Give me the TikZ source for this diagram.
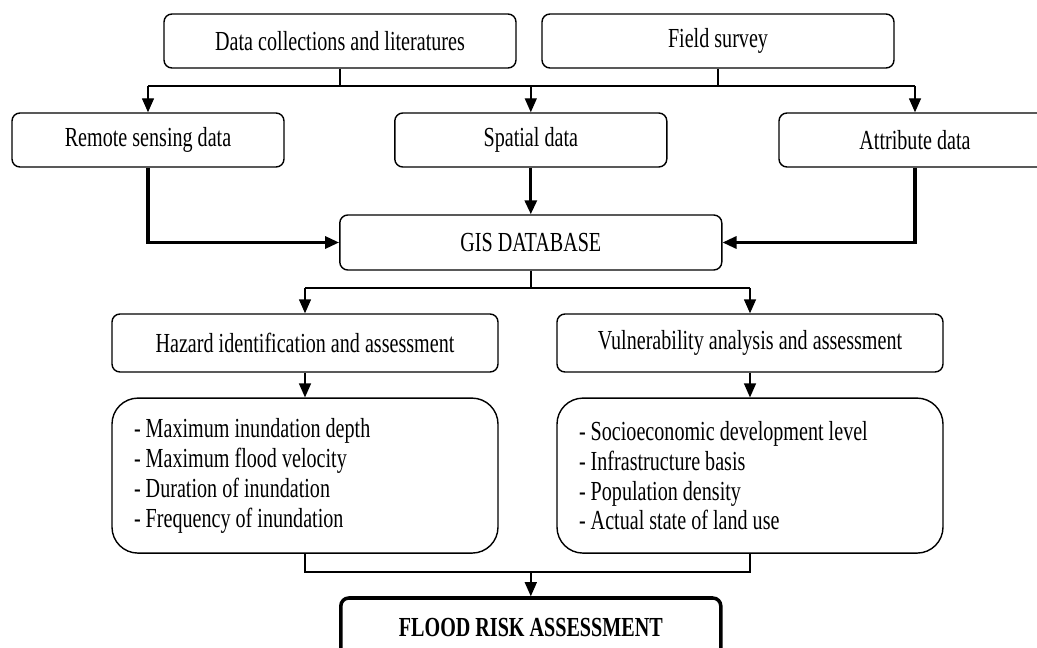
\documentclass[tikz,border=0pt]{standalone}
\usepackage{fontspec}
\setmainfont[FakeStretch=0.73]{Liberation Serif}
\usetikzlibrary{arrows.meta}

\begin{document}
\begin{tikzpicture}[
		font=\fontsize{19.6}{21.3}\selectfont,
		>={Triangle[length=3.5mm,width=3mm]},
		box/.style={draw,line width=1pt,rounded corners=2mm,minimum height=1.35cm,inner sep=0pt},
		listbox/.style={draw,line width=1pt,rounded corners=6.5mm,minimum width=9.65cm,minimum height=3.875cm,text width=8.55cm,inner xsep=0.55cm,align=flush left},
		line/.style={line width=1pt},
		bline/.style={line width=2.2pt}
	]
		\useasboundingbox (0,0) rectangle (25.925,-16.2);
		
		\node[box,minimum width=8.8cm] (dcl) at (8.5,-1.025) {Data collections and literatures};
		\node[box,minimum width=8.8cm] (fs) at (17.95,-1.025) {Field survey};
		
		\node[box,minimum width=6.8cm] (rsd) at (3.7,-3.5) {Remote sensing data};
		\node[box,minimum width=6.8cm] (spd) at (13.27,-3.5) {Spatial data};
		\node[box,minimum width=6.8cm] (atd) at (22.875,-3.5) {Attribute data};
		
		\node[box,minimum width=9.55cm,minimum height=1.375cm] (gis) at (13.27,-6.0625) {GIS DATABASE};
		
		\node[box,minimum width=9.65cm,minimum height=1.45cm] (haz) at (7.625,-8.575) {Hazard identification and assessment};
		\node[box,minimum width=9.65cm,minimum height=1.45cm] (vul) at (18.75,-8.575) {Vulnerability analysis and assessment};
		
		\node[listbox] (hazl) at (7.625,-11.89) {- Maximum inundation depth\\- Maximum flood velocity\\- Duration of inundation\\- Frequency of inundation};
		\node[listbox] (vull) at (18.75,-11.89) {- Socioeconomic development level\\- Infrastructure basis\\- Population density\\- Actual state of land use};
		
		\node[box,line width=2.5pt,minimum width=9.5cm,minimum height=1.5cm,font=\fontsize{19.6}{21.3}\selectfont\bfseries] (flood) at (13.27,-15.7) {FLOOD RISK ASSESSMENT};
		
		\coordinate (jt) at (13.27,-2.15);
		\coordinate (jm) at (13.27,-7.2);
		\coordinate (jb) at (13.27,-14.3);
		
		\draw[line] (dcl.south) -- (dcl.south |- jt);
		\draw[line] (fs.south) -- (fs.south |- jt);
		\draw[line] (rsd.north |- jt) -- (atd.north |- jt);
		\draw[line,->] (rsd.north |- jt) -- (rsd.north);
		\draw[line,->] (spd.north |- jt) -- (spd.north);
		\draw[line,->] (atd.north |- jt) -- (atd.north);
		
		\draw[bline,->] (rsd.south) |- (gis.west);
		\draw[bline,->] (spd.south) -- (gis.north);
		\draw[bline,->] (atd.south) |- (gis.east);
		
		\draw[line] (gis.south) -- (jm);
		\draw[line] (haz.north |- jm) -- (vul.north |- jm);
		\draw[line,->] (haz.north |- jm) -- (haz.north);
		\draw[line,->] (vul.north |- jm) -- (vul.north);
		
		\draw[line,->] (haz.south) -- (hazl.north);
		\draw[line,->] (vul.south) -- (vull.north);
		
		\draw[line] (hazl.south) |- (jb) -| (vull.south);
		\draw[line,->] (jb) -- (flood.north);
\end{tikzpicture}
\end{document}
